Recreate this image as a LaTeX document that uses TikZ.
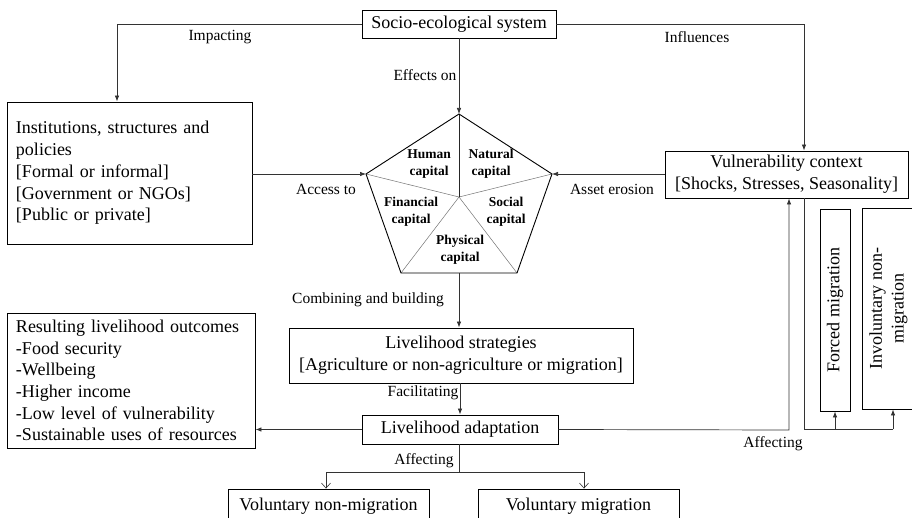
\documentclass[tikz,border=0pt]{standalone}
\usepackage{fontspec}
\setmainfont{Liberation Serif}
\usetikzlibrary{arrows.meta,calc}
\begin{document}
\begin{tikzpicture}[x=1pt,y=-1pt,
  box/.style={draw=black,line width=0.9pt,rectangle,inner sep=0pt,align=center,
    font=\fontsize{18}{21.7}\selectfont},
  lbl/.style={inner sep=0pt,font=\fontsize{15.5}{18}\selectfont},
  capital/.style={inner sep=0pt,align=center,font=\fontsize{13.5}{16.5}\selectfont\bfseries},
  conn/.style={draw=black!80,line width=0.7pt},
  arr/.style={conn,-{Latex[length=6pt,width=4.5pt]}},
  oarr/.style={conn,-{Straight Barb[length=5pt,width=9pt,line width=0.6pt]}},
  inner/.style={draw=black!55,line width=0.5pt}]
\useasboundingbox (0,0) rectangle (912,518);
\begin{scope}
\clip (0,0) rectangle (912,518);

% boxes
\node[box,minimum width=194pt,minimum height=28pt] (soc) at (459,24) {Socio-ecological system};
\node[box,minimum width=245pt,minimum height=142pt,text width=227pt,align=left] (inst) at (129.5,173)
  {Institutions, structures and\\policies\\{[Formal or informal]}\\{[Government or NGOs]}\\{[Public or private]}};
\node[box,minimum width=243pt,minimum height=47pt] (vul) at (786.5,174.5)
  {Vulnerability context\\{[Shocks, Stresses, Seasonality]}};
\node[box,minimum width=202pt,minimum height=30pt,rotate=90] (forced) at (835,310) {Forced migration};
\node[box,minimum width=201pt,minimum height=53pt,rotate=90] (invol) at (888.5,308.5) {Involuntary non-\\migration};
\node[box,minimum width=344pt,minimum height=55pt] (strat) at (461,355.5)
  {Livelihood strategies\\{[Agriculture or non-agriculture or migration]}};
\node[box,minimum width=196pt,minimum height=29pt] (adapt) at (460,429.5) {Livelihood adaptation};
\node[box,minimum width=248pt,minimum height=135pt,text width=230pt,align=left] (outc) at (131,380.5)
  {Resulting livelihood outcomes\\-Food security\\-Wellbeing\\-Higher income\\-Low level of vulnerability\\-Sustainable uses of resources};
\node[box,minimum width=201pt,minimum height=34pt] (vnm) at (328.5,506) {Voluntary non-migration};
\node[box,minimum width=201pt,minimum height=34pt] (vm) at (578.5,506) {Voluntary migration};

% capital pentagon
\coordinate (P1) at (459,114);
\coordinate (P2) at (552,174);
\coordinate (P3) at (517,273);
\coordinate (P4) at (401,273);
\coordinate (P5) at (366,174);
\coordinate (C) at (459,197);
\draw[inner] (C) -- (P2) (C) -- (P3) (C) -- (P4) (C) -- (P5);
\draw[draw=black!85,line width=0.7pt] (C) -- (P1);
\draw[line width=0.9pt,line join=miter] (P1) -- (P2) -- (P3) -- (P4) -- (P5) -- cycle;
\node[capital] (hc) at (429,164) {Human\\capital};
\node[capital] (nc) at (491,164) {Natural\\capital};
\node[capital] (fc) at (411,212) {Financial\\capital};
\node[capital] (sc) at (506,212) {Social\\capital};
\node[capital] (pc) at (460,250) {Physical\\capital};

% connectors
\coordinate (tl) at (117,24);
\coordinate (tr) at (804,24);
\draw[arr] (soc.west) -- (tl) -- (tl |- inst.north);
\draw[arr] (soc.east) -- (tr) -- (tr |- vul.north);
\draw[arr] (soc.south -| P1) -- (P1);
\draw[arr] (inst.east |- P5) -- (P5);
\draw[arr] (vul.west |- P2) -- (P2);
\coordinate (pb) at (459,273);
\draw[arr] (pb) -- (pb |- strat.north);
\draw[arr] (strat.south -| adapt.north) -- (adapt.north);
\draw[arr] (adapt.west) -- (adapt.west -| outc.east);
\coordinate (ar) at (789,430);
\draw[arr] (adapt.east) -- (ar) -- (ar |- vul.south);
\coordinate (vr) at (804,429);
\coordinate (ir) at (893,429);
\draw[conn] (vr |- vul.south) -- (vr) -- (ir);
% rotated boxes: their west anchor is the lower edge
\draw[arr] (forced.west |- vr) -- (forced.west);
\draw[arr] (ir) -- (ir |- invol.west);
\coordinate (ab) at (459,472);
\coordinate (abl) at (326,472);
\coordinate (abr) at (584,472);
\draw[conn] (adapt.south -| ab) -- (ab);
\draw[conn] (abl) -- (abr);
\draw[oarr] (abl) -- (abl |- vnm.north);
\draw[oarr] (abr) -- (abr |- vm.north);

% connector labels
\node[lbl] (l1) at (220,37) {Impacting};
\node[lbl] (l2) at (697,37) {Influences};
\node[lbl] (l3) at (425,75) {Effects on};
\node[lbl] (l4) at (326,189) {Access to};
\node[lbl] (l5) at (612,189) {Asset erosion};
\node[lbl] (l6) at (368,300) {Combining and building};
\node[lbl] (l7) at (423,393) {Facilitating};
\node[lbl] (l8) at (424,461) {Affecting};
\node[lbl] (l9) at (773,444) {Affecting};
\end{scope}
\end{tikzpicture}
\end{document}
